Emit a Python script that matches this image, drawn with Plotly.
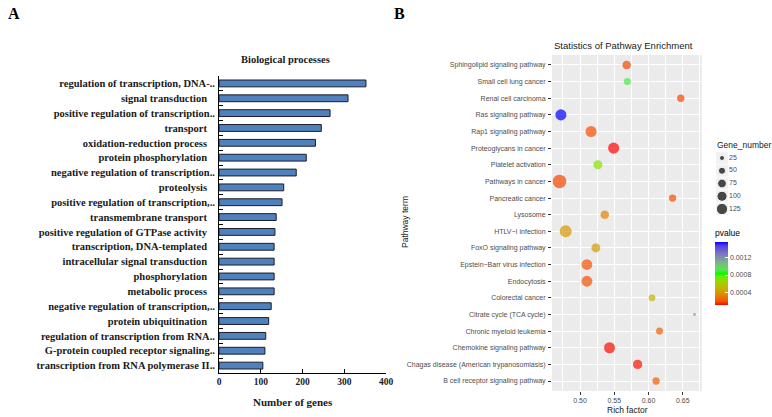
import plotly.graph_objects as go

# A: GO biological processes (top to bottom)
bp_terms = [
    "regulation of transcription, DNA-..",
    "signal transduction",
    "positive regulation of transcription..",
    "transport",
    "oxidation-reduction process",
    "protein phosphorylation",
    "negative regulation of transcription..",
    "proteolysis",
    "positive regulation of transcription,..",
    "transmembrane transport",
    "positive regulation of GTPase activity",
    "transcription, DNA-templated",
    "intracellular signal transduction",
    "phosphorylation",
    "metabolic process",
    "negative regulation of transcription,..",
    "protein ubiquitination",
    "regulation of transcription from RNA..",
    "G-protein coupled receptor signaling..",
    "transcription from RNA polymerase II..",
]
bp_genes = [352, 309, 266, 245, 231, 209, 185, 155, 151, 137,
            134, 132, 132, 132, 132, 125, 119, 112, 110, 105]

# B: KEGG pathway enrichment (bottom to top)
kegg_pathways = [
    "B cell receptor signaling pathway",
    "Chagas disease (American trypanosomiasis)",
    "Chemokine signaling pathway",
    "Chronic myeloid leukemia",
    "Citrate cycle (TCA cycle)",
    "Colorectal cancer",
    "Endocytosis",
    "Epstein\u2212Barr virus infection",
    "FoxO signaling pathway",
    "HTLV\u2212I infection",
    "Lysosome",
    "Pancreatic cancer",
    "Pathways in cancer",
    "Platelet activation",
    "Proteoglycans in cancer",
    "Rap1 signaling pathway",
    "Ras signaling pathway",
    "Renal cell carcinoma",
    "Small cell lung cancer",
    "Sphingolipid signaling pathway",
]
kegg_rich = [0.611, 0.584, 0.543, 0.616, 0.667, 0.605, 0.510, 0.510, 0.523, 0.479,
             0.536, 0.635, 0.470, 0.526, 0.549, 0.516, 0.472, 0.647, 0.569, 0.568]
kegg_genes = [52, 85, 118, 48, 8, 46, 115, 112, 78, 140,
              72, 52, 180, 80, 120, 118, 120, 52, 48, 72]
kegg_pvalue = [0.00022, 0.00012, 0.00011, 0.00022, 0.0012, 0.00051, 0.00019, 0.00019, 0.0004, 0.00039,
               0.00032, 0.00018, 0.00017, 0.00069, 0.0001, 0.00018, 0.00157, 0.00017, 0.0009, 0.00017]
size_breaks = [25, 50, 75, 100, 125]
pvalue_ticks = [0.0004, 0.0008, 0.0012]

W, H = 772, 417
SREF = 1.95


def px(x):
    return x / W


def py(y):
    return 1 - y / H


def lab_to_rgb(L, a, b):
    fy = (L + 16) / 116
    fx = fy + a / 500
    fz = fy - b / 200

    def finv(t):
        return t ** 3 if t ** 3 > 0.008856 else (t - 16 / 116) / 7.787
    X, Y, Z = 0.95047 * finv(fx), finv(fy), 1.08883 * finv(fz)
    lin = [3.2406 * X - 1.5372 * Y - 0.4986 * Z,
           -0.9689 * X + 1.8758 * Y + 0.0415 * Z,
           0.0557 * X - 0.2040 * Y + 1.0570 * Z]
    out = []
    for c in lin:
        c = 1.055 * c ** (1 / 2.4) - 0.055 if c > 0.0031308 else 12.92 * c
        out.append(round(min(max(c, 0), 1) * 255))
    return "rgb(%d,%d,%d)" % tuple(out)


# red -> green -> blue interpolated in Lab, like ggplot's gradientn
red, green, blue = (53.24, 80.09, 67.20), (87.73, -86.18, 83.18), (32.30, 79.19, -107.86)
colorscale = []
for i in range(21):
    t = i / 20
    c0, c1, s = (red, green, t * 2) if t <= 0.5 else (green, blue, (t - 0.5) * 2)
    lab = [c0[k] + (c1[k] - c0[k]) * s for k in range(3)]
    colorscale.append([t, lab_to_rgb(*lab)])

serif = "Liberation Serif"
sans = "Liberation Sans"

fig = go.Figure()

# panel A bars
bp_text = [t if t.endswith("..") else t + "\u00a0\u00a0\u00a0" for t in bp_terms]
fig.add_trace(go.Bar(
    x=bp_genes, y=bp_terms, orientation="h", width=0.46,
    marker=dict(color="#4F81BD", line=dict(color="#1c1c2a", width=1)),
    xaxis="x", yaxis="y", showlegend=False,
))

# panel B dots
fig.add_trace(go.Scatter(
    x=kegg_rich, y=kegg_pathways, mode="markers",
    marker=dict(size=kegg_genes, sizemode="area", sizeref=SREF,
                color=kegg_pvalue, colorscale=colorscale, line=dict(width=0),
                cmin=0.0001, cmax=0.00157, showscale=True,
                colorbar=dict(
                    x=px(715), xanchor="left", y=py(305), yanchor="bottom",
                    lenmode="pixels", len=78, thickness=13, outlinewidth=0,
                    xpad=0, ypad=0,
                    title=dict(text="pvalue", side="top", font=dict(family=sans, size=8.5, color="#000")),
                    tickvals=pvalue_ticks, ticktext=["%.4f" % v for v in pvalue_ticks],
                    ticks="inside", ticklen=3, tickcolor="white",
                    tickfont=dict(family=sans, size=7, color="#4D4D4D"),
                )),
    xaxis="x2", yaxis="y2", showlegend=False,
))

# size legend keys
fig.add_trace(go.Scatter(
    x=[7] * len(size_breaks), y=[str(b) for b in size_breaks], mode="markers",
    marker=dict(symbol="square", size=12, color="#F2F2F2"),
    xaxis="x3", yaxis="y3", showlegend=False, hoverinfo="skip",
))
fig.add_trace(go.Scatter(
    x=[7] * len(size_breaks), y=[str(b) for b in size_breaks], mode="markers",
    marker=dict(size=size_breaks, sizemode="area", sizeref=SREF, color="black"),
    xaxis="x3", yaxis="y3", showlegend=False,
))
fig.add_trace(go.Scatter(
    x=[14] * len(size_breaks), y=[str(b) for b in size_breaks], mode="text",
    text=[str(b) for b in size_breaks], textposition="middle right",
    textfont=dict(family=sans, size=7, color="#4D4D4D"),
    xaxis="x3", yaxis="y3", showlegend=False,
))

fig.update_layout(
    width=W, height=H, margin=dict(l=0, r=0, t=0, b=0, autoexpand=False),
    plot_bgcolor="white", paper_bgcolor="white",
    xaxis=dict(domain=[px(219), px(386)], anchor="y", range=[0, 400], dtick=100, automargin=False,
               showline=True, linecolor="black", linewidth=1, showgrid=False, zeroline=False,
               ticks="inside", ticklen=4, tickcolor="black",
               tickfont=dict(family=serif, size=9.5, color="#222", weight="bold")),
    yaxis=dict(domain=[py(373), py(76)], anchor="x", autorange="reversed", type="category",
               automargin=False, tickvals=bp_terms, ticktext=bp_text,
               showline=True, linecolor="black", linewidth=1, showgrid=False,
               ticks="inside", ticklen=4, tickcolor="black", tickson="boundaries",
               ticklabelstandoff=1,
               tickfont=dict(family=serif, size=10.5, color="#1a1a1a", weight="bold")),
    xaxis2=dict(domain=[px(552), px(702)], anchor="y2", range=[0.459, 0.678], tick0=0.5, dtick=0.05,
                automargin=False,
                tickformat=".2f", showgrid=True, gridcolor="white", gridwidth=1, zeroline=False,
                minor=dict(dtick=0.025, tick0=0.5, showgrid=True, gridcolor="white", gridwidth=0.5),
                ticks="outside", ticklen=3, tickcolor="#333333", ticklabelstandoff=0,
                tickfont=dict(family=sans, size=7, color="#4D4D4D")),
    yaxis2=dict(domain=[py(391), py(55)], anchor="x2", range=[-0.6, len(kegg_pathways) - 0.4],
                type="category", showgrid=True, gridcolor="white", gridwidth=1, automargin=False,
                ticks="outside", ticklen=3, tickcolor="#333333", ticklabelstandoff=1,
                tickfont=dict(family=sans, size=7, color="#4D4D4D")),
    xaxis3=dict(domain=[px(715), px(769)], anchor="y3", range=[0, 54], visible=False, automargin=False),
    yaxis3=dict(domain=[py(215.4), py(151.6)], anchor="x3", type="category", automargin=False,
                range=[len(size_breaks) - 0.5, -0.5], visible=False),
    shapes=[dict(type="rect", xref="x2 domain", yref="y2 domain", x0=0, x1=1, y0=0, y1=1,
                 fillcolor="#EBEBEB", line=dict(width=0), layer="below")],
    annotations=[
        dict(text="<b>A</b>", x=px(6), y=py(13), xanchor="left", yanchor="middle",
             font=dict(family=serif, size=16, color="black")),
        dict(text="<b>B</b>", x=px(392), y=py(13), xanchor="left", yanchor="middle",
             font=dict(family=serif, size=16, color="black")),
        dict(text="<b>Biological processes</b>", x=px(285), y=py(59),
             xanchor="center", yanchor="middle", font=dict(family=serif, size=10.5, color="#1a1a1a")),
        dict(text="<b>Number of genes</b>", x=px(293), y=py(402),
             xanchor="center", yanchor="middle", font=dict(family=serif, size=11, color="#1a1a1a")),
        dict(text="Statistics of Pathway Enrichment", x=px(552), y=py(45),
             xanchor="left", yanchor="middle", font=dict(family=sans, size=9.5, color="#1a1a1a")),
        dict(text="Rich factor", x=px(627), y=py(410),
             xanchor="center", yanchor="middle", font=dict(family=sans, size=8.5, color="#1a1a1a")),
        dict(text="Pathway term", x=px(405), y=py(222), textangle=-90,
             xanchor="center", yanchor="middle", font=dict(family=sans, size=8.5, color="#1a1a1a")),
        dict(text="Gene_number", x=px(715), y=py(145),
             xanchor="left", yanchor="middle", font=dict(family=sans, size=8.5, color="#1a1a1a")),
    ],
)
for a in fig.layout.annotations:
    a.update(xref="paper", yref="paper", showarrow=False)

# drop the browser's default 8px body margin so the figure sits at the page corner
fig.write_html("out.html", config={"displayModeBar": False},
               post_script="document.body.style.margin='0px';")
